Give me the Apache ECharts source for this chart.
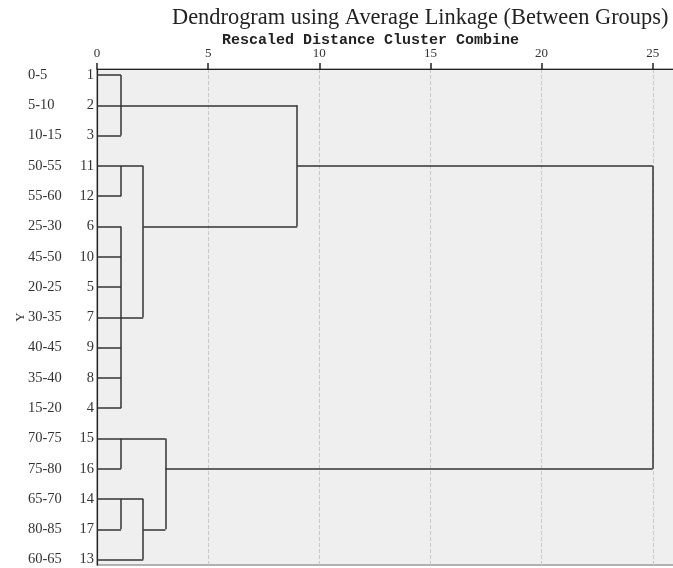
<!DOCTYPE html>
<html>
<head>
<meta charset="utf-8">
<script src="https://cdn.jsdelivr.net/npm/echarts@6/dist/echarts.min.js"></script>
<style>html,body{margin:0;padding:0;background:#fff}#c{width:673px;height:568px}</style>
</head>
<body>
<div id="c"></div>
<script>
// Leaf order (case numbers) and their group labels, top to bottom
const leaves = ['1','2','3','11','12','6','10','5','7','9','8','4','15','16','14','17','13'];
const groups = ['0-5','5-10','10-15','50-55','55-60','25-30','45-50','20-25','30-35','40-45','35-40','15-20','70-75','75-80','65-70','80-85','60-65'];
// Merges: name, children, rescaled distance, row at which the new cluster is joined
const mergeNames    = ['A','B','C','D','E','F','G','H','I','J'];
const mergeChildren = [['1','2','3'], ['11','12'], ['6','10','5','7','9','8','4'], ['B','C'], ['A','D'],
                       ['15','16'], ['14','17'], ['G','13'], ['F','H'], ['E','I']];
const mergeHeights  = [1.08, 1.08, 1.08, 2.08, 9.0, 1.08, 1.08, 2.08, 3.08, 25];
const mergeAnchors  = ['2','11','7','6','11','15','14','17','16', null];
const xTicks = [0, 5, 10, 15, 20, 25];

// Build segments from the tree
const nodeInfo = {};
leaves.forEach((l, i) => { nodeInfo[l] = { row: i, h: 0 }; });
const segs = [];
mergeNames.forEach((nm, k) => {
  const h = mergeHeights[k];
  const rows = [];
  mergeChildren[k].forEach(ch => {
    const c = nodeInfo[ch];
    segs.push({ coords: [[c.h, c.row], [h, c.row]] });
    rows.push(c.row);
  });
  const r0 = Math.min(...rows), r1 = Math.max(...rows);
  segs.push({ coords: [[h, r0], [h, r1]] });
  nodeInfo[nm] = { row: mergeAnchors[k] ? leaves.indexOf(mergeAnchors[k]) : (r0 + r1) / 2, h: h };
});
const rowIdx = leaves.map((l, i) => i);

const chart = echarts.init(document.getElementById('c'));
const serif = 'Liberation Serif';
chart.setOption({
  animation: false,
  title: [
    { text: 'Dendrogram using Average Linkage (Between Groups)', left: 172, top: 7, padding: 0,
      textStyle: { fontFamily: serif, fontSize: 22.4, fontWeight: 'normal', color: '#222' } },
    { text: 'Rescaled Distance Cluster Combine', left: 222, top: 33, padding: 0,
      textStyle: { fontFamily: 'Liberation Mono', fontSize: 15, fontWeight: 'bold', color: '#222' } }
  ],
  grid: { left: 97, top: 69, right: -2, bottom: 3, show: true, backgroundColor: '#efefef',
          borderColor: '#9a9a9a', borderWidth: 1.5, outerBoundsMode: 'none', containLabel: false },
  xAxis: {
    type: 'value', position: 'top', min: 0, max: 26, interval: 5,
    axisLine: { show: true, onZero: false, lineStyle: { color: '#222', width: 1.2 } },
    axisTick: { show: true, inside: false, length: 6, lineStyle: { color: '#222', width: 1.5 } },
    axisLabel: { margin: 9, fontFamily: serif, fontSize: 13, color: '#333',
      formatter: v => (xTicks.indexOf(v) >= 0 ? String(v) : '') },
    splitLine: { show: true, lineStyle: { color: '#c8c8c8', type: 'dashed', width: 1 } }
  },
  yAxis: [
    { type: 'value', min: -0.2, max: 16.18, inverse: true, position: 'left',
      axisLine: { show: true, onZero: false, lineStyle: { color: '#222', width: 1.2 } },
      axisTick: { show: false }, splitLine: { show: false },
      axisLabel: { customValues: rowIdx, margin: 3, fontFamily: serif, fontSize: 14.5, color: '#333',
        formatter: v => leaves[Math.round(v)] } },
    { type: 'value', min: -0.2, max: 16.18, inverse: true, position: 'left', offset: 69,
      name: 'Y', nameLocation: 'middle', nameGap: 1, nameRotate: 90, nameMoveOverlap: false,
      nameTextStyle: { fontFamily: serif, fontSize: 13, color: '#333' },
      axisLine: { show: false, onZero: false }, axisTick: { show: false }, splitLine: { show: false },
      axisLabel: { customValues: rowIdx, margin: 0, align: 'left', fontFamily: serif, fontSize: 14.5, color: '#333',
        formatter: v => groups[Math.round(v)] } }
  ],
  series: [{
    type: 'lines', coordinateSystem: 'cartesian2d', xAxisIndex: 0, yAxisIndex: 0,
    polyline: false, silent: true,
    lineStyle: { color: '#333', width: 1.5, opacity: 1 },
    data: segs
  }]
});
</script>
</body>
</html>
